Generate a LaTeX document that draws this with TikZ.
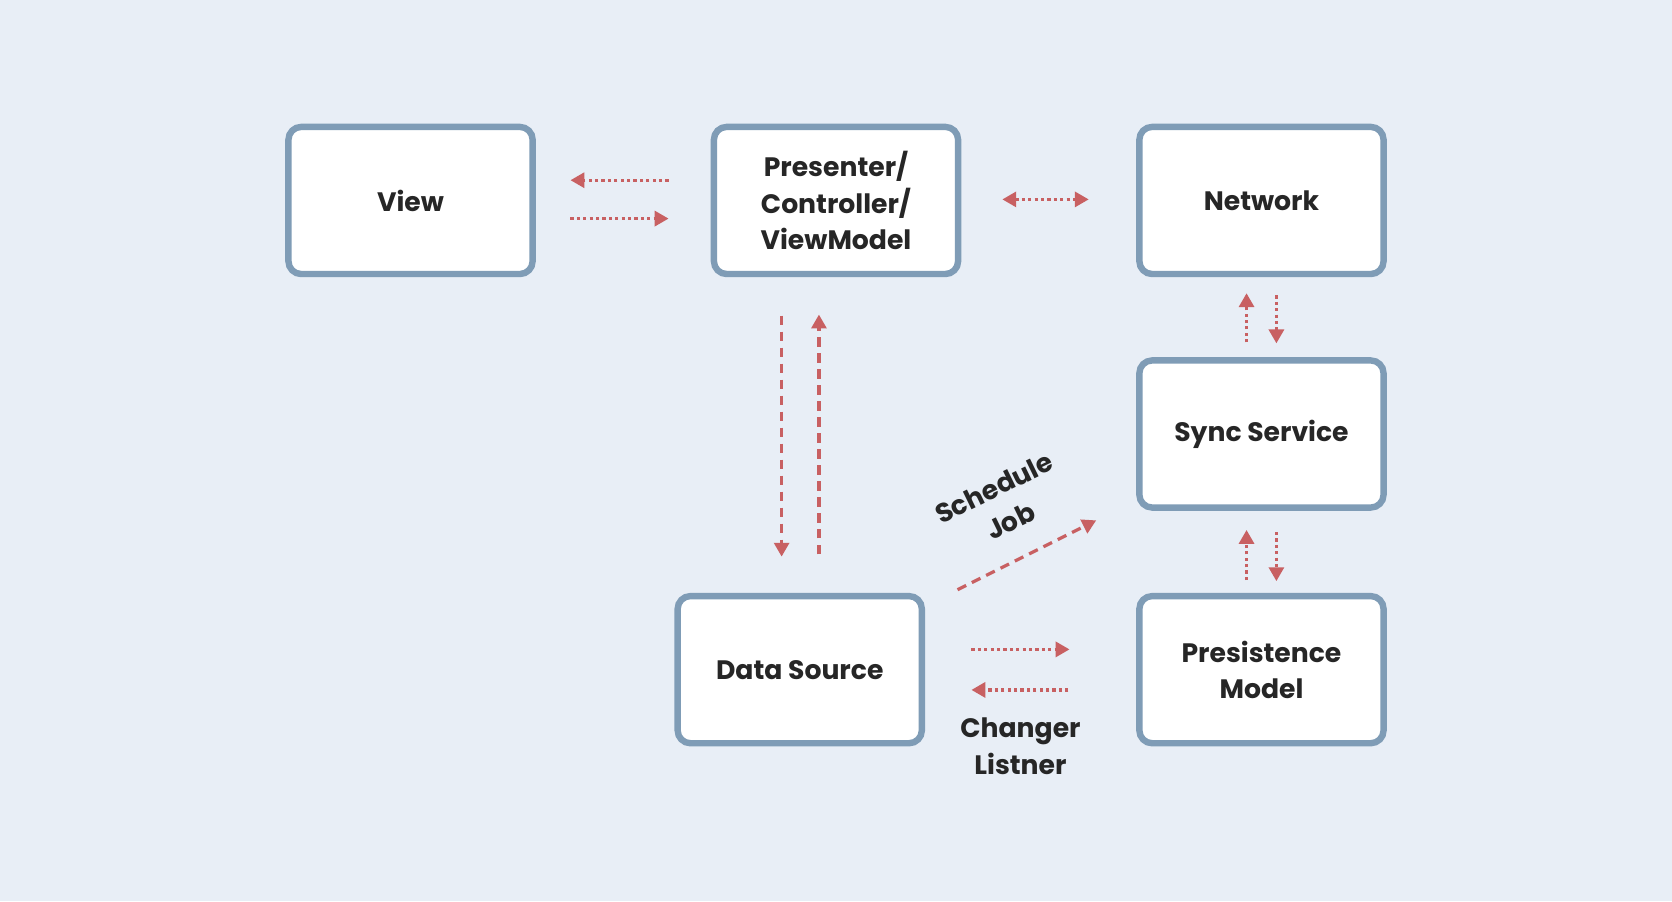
\documentclass[tikz,border=0pt]{standalone}
\usetikzlibrary{arrows.meta}
\usepackage{fontspec}
\setmainfont{Poppins}
\begin{document}
\begin{tikzpicture}[x=1pt,y=-1pt,
  box/.style={draw=bordc,line width=6pt,fill=white,rounded corners=12pt,minimum width=229pt,minimum height=138pt,align=center,font=\fontsize{25}{34}\selectfont\bfseries,text=txt},
  dot/.style={draw=arr,line width=3pt,dash pattern=on 3pt off 3pt,-{Triangle[length=13pt,width=14pt]}},
  dsh/.style={draw=arr,line width=3pt,dash pattern=on 9pt off 6pt,-{Triangle[length=13pt,width=14pt]}},
  lbl/.style={font=\fontsize{25}{35}\selectfont\bfseries,text=txt,align=center}]
\definecolor{bg}{HTML}{E8EEF6}\definecolor{bordc}{HTML}{7F9CB6}\definecolor{arr}{HTML}{C86062}\definecolor{txt}{HTML}{262626}
\fill[bg] (0,0) rectangle (1568,845);
\useasboundingbox (0,0) rectangle (1568,845);
\node[box] (view) at (385,188) {View};
\node[box] (pres) at (784,188) {Presenter/\\Controller/\\ViewModel};
\node[box] (net) at (1183,188) {Network};
\node[box] (sync) at (1183,407) {Sync Service};
\node[box] (ds) at (750,628) {Data Source};
\node[box] (pm) at (1183,628) {Presistence\\Model};
\foreach \n/\x/\y in {a1/627/169,a2/535/169,b1/535/205,b2/627/205,c1/940/187,c2/1021/187,
 d1/1169/321,d2/1169/275,e1/1197/277,e2/1197/322,f1/1169/544,f2/1169/497,g1/1197/499,g2/1197/545,
 h1/733/296,h2/733/522,i1/768/520,i2/768/295,j1/898/553,j2/1028/488,k1/911/609,k2/1003/609,l1/1002/647,l2/911/647}
 \coordinate (\n) at (\x,\y);
\draw[dot] (a1) -- (a2);
\draw[dot] (b1) -- (b2);
\draw[dot,{Triangle[length=13pt,width=14pt]}-{Triangle[length=13pt,width=14pt]}] (c1) -- (c2);
\draw[dot] (d1) -- (d2);
\draw[dot] (e1) -- (e2);
\draw[dot] (f1) -- (f2);
\draw[dot] (g1) -- (g2);
\draw[dsh] (h1) -- (h2);
\draw[dsh] (i1) -- (i2);
\draw[dsh] (j1) -- (j2);
\draw[dot] (k1) -- (k2);
\draw[dot] (l1) -- (l2);
\node[lbl,rotate=26] (sj) at (940,473) {Schedule\\Job};
\node[lbl] (cl) at (957,700) {Changer\\Listner};
\end{tikzpicture}
\end{document}
